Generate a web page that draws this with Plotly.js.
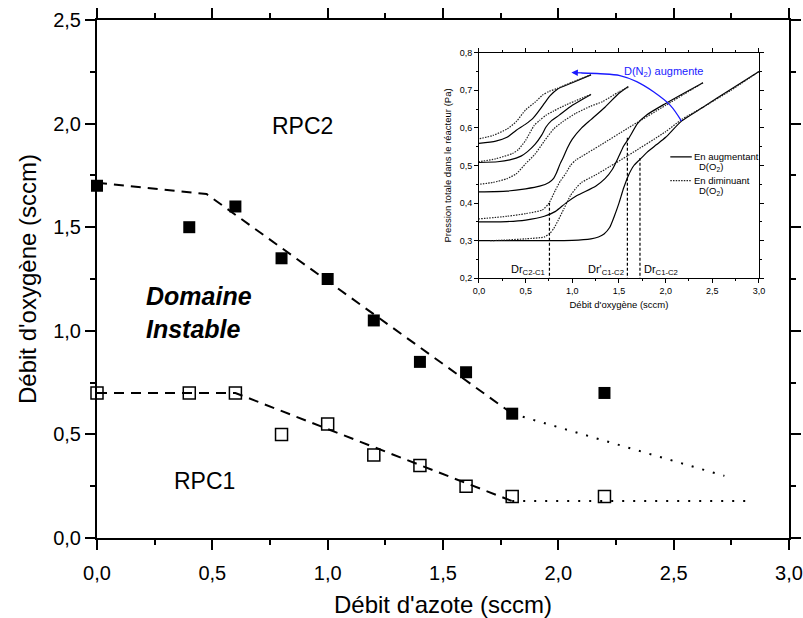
<!DOCTYPE html>
<html>
<head>
<meta charset="utf-8">
<script src="https://cdn.plot.ly/plotly-3.0.1.min.js"></script>
<style>html,body{margin:0;padding:0;background:#fff;}#chart{width:803px;height:618px;}</style>
</head>
<body>
<div id="chart"></div>
<script>
// ---- Main chart data ----
const nitrogenFlow = [0, 0.4, 0.6, 0.8, 1.0, 1.2, 1.4, 1.6, 1.8, 2.2];
const rpc2Oxygen   = [1.7, 1.5, 1.6, 1.35, 1.25, 1.05, 0.85, 0.8, 0.6, 0.7];
const rpc1Oxygen   = [0.7, 0.7, 0.7, 0.5, 0.55, 0.4, 0.35, 0.25, 0.2, 0.2];

const rpc2DashX = [0, 0.475, 1.8];
const rpc2DashY = [1.715, 1.66, 0.6];
const rpc2DotX  = [1.8, 2.72];
const rpc2DotY  = [0.6, 0.30];
const rpc1DashX = [0, 0.6, 1.8];
const rpc1DashY = [0.7, 0.7, 0.178];
const rpc1DotX  = [1.8, 2.82];
const rpc1DotY  = [0.178, 0.178];

// ---- Inset data (pressure vs O2 flow), 5 N2 flows ----
const aIncX = [0, 0.5, 1.0, 1.2, 1.28, 1.34, 1.4, 1.45, 1.5, 1.55, 1.6, 1.66, 1.72, 1.8, 1.9, 2.0, 2.17, 2.4, 2.7, 3.0];
const aIncY = [0.30, 0.30, 0.301, 0.305, 0.31, 0.318, 0.335, 0.365, 0.40, 0.44, 0.473, 0.50, 0.515, 0.535, 0.555, 0.575, 0.618, 0.655, 0.703, 0.75];
const aDecX = [3.0, 2.7, 2.4, 2.17, 2.0, 1.6, 1.4, 1.25, 1.1, 1.04, 0.98, 0.91, 0.85, 0.8, 0.76, 0.7, 0.5, 0.3, 0.12];
const aDecY = [0.75, 0.70, 0.655, 0.622, 0.59, 0.527, 0.497, 0.475, 0.455, 0.44, 0.42, 0.385, 0.355, 0.332, 0.32, 0.31, 0.305, 0.302, 0.30];

const bIncX = [0, 0.3, 0.5, 0.7, 0.82, 0.93, 1.05, 1.25, 1.35, 1.43, 1.5, 1.55, 1.6, 1.7, 1.8, 2.0, 2.2, 2.4];
const bIncY = [0.35, 0.351, 0.355, 0.365, 0.378, 0.40, 0.42, 0.445, 0.465, 0.49, 0.525, 0.552, 0.57, 0.612, 0.635, 0.665, 0.693, 0.72];
const bDecX = [2.4, 2.2, 2.0, 1.6, 1.3, 1.1, 1.04, 0.98, 0.93, 0.87, 0.82, 0.75, 0.68, 0.5, 0.3, 0];
const bDecY = [0.72, 0.69, 0.66, 0.60, 0.554, 0.524, 0.515, 0.50, 0.479, 0.458, 0.435, 0.40, 0.382, 0.372, 0.365, 0.358];

const cIncX = [0, 0.3, 0.5, 0.65, 0.75, 0.8, 0.83, 0.87, 0.9, 0.95, 1.0, 1.1, 1.2, 1.35, 1.5, 1.6];
const cIncY = [0.43, 0.432, 0.438, 0.445, 0.455, 0.466, 0.48, 0.505, 0.52, 0.548, 0.57, 0.60, 0.622, 0.655, 0.692, 0.71];
const cDecX = [1.6, 1.5, 1.325, 1.2, 1.04, 0.9, 0.8, 0.7, 0.6, 0.5, 0.4, 0.3, 0.15, 0];
const cDecY = [0.708, 0.696, 0.67, 0.658, 0.639, 0.617, 0.597, 0.565, 0.53, 0.505, 0.478, 0.465, 0.455, 0.45];

const dIncX = [0, 0.2, 0.33, 0.45, 0.52, 0.6, 0.67, 0.72, 0.78, 0.86, 1.0, 1.2];
const dIncY = [0.508, 0.51, 0.515, 0.525, 0.537, 0.556, 0.58, 0.603, 0.62, 0.634, 0.66, 0.689];
const dDecX = [1.2, 0.93, 0.8, 0.72, 0.65, 0.59, 0.5, 0.42, 0.36, 0.18, 0];
const dDecY = [0.689, 0.661, 0.645, 0.634, 0.62, 0.606, 0.567, 0.542, 0.532, 0.518, 0.51];

const eIncX = [0, 0.18, 0.3, 0.4, 0.5, 0.58, 0.65, 0.7, 0.76, 0.84, 1.0, 1.2];
const eIncY = [0.559, 0.565, 0.575, 0.594, 0.61, 0.626, 0.648, 0.665, 0.685, 0.703, 0.72, 0.741];
const eDecX = [1.2, 1.0, 0.84, 0.75, 0.68, 0.6, 0.5, 0.4, 0.3, 0.15, 0];
const eDecY = [0.741, 0.722, 0.705, 0.697, 0.687, 0.668, 0.648, 0.617, 0.597, 0.58, 0.571];

// critical flows (vertical dashed markers)
const drFlows = [0.755, 1.59, 1.725];
const drTops  = [0.40, 0.575, 0.52];
const drLabels = ["Dr<sub>C2-C1</sub>", "Dr'<sub>C1-C2</sub>", "Dr<sub>C1-C2</sub>"];
const drLabelX = [0.53, 1.36, 1.95];

// blue arc "D(N2) augmente"
const arcX = [2.17, 2.05, 1.87, 1.69, 1.51, 1.3, 1.1];
const arcY = [0.618, 0.66, 0.696, 0.723, 0.739, 0.744, 0.746];

const FONT = "Liberation Sans, Arial, sans-serif";
const traces = [];

// main markers
traces.push({x: nitrogenFlow, y: rpc2Oxygen, mode: 'markers', type: 'scatter', cliponaxis: false,
  marker: {symbol: 'square', size: 12, color: '#000'}, showlegend: false});
traces.push({x: nitrogenFlow, y: rpc1Oxygen, mode: 'markers', type: 'scatter', cliponaxis: false,
  marker: {symbol: 'square-open', size: 12, color: '#000', line: {width: 1.5, color: '#000'}}, showlegend: false});
// main boundary lines
traces.push({x: rpc2DashX, y: rpc2DashY, mode: 'lines', line: {color: '#000', width: 2, dash: '10px,7px'}, showlegend: false, cliponaxis: false});
traces.push({x: rpc2DotX, y: rpc2DotY, mode: 'lines', line: {color: '#000', width: 2, dash: '2px,9px'}, showlegend: false});
traces.push({x: rpc1DashX, y: rpc1DashY, mode: 'lines', line: {color: '#000', width: 2, dash: '10px,7px'}, showlegend: false, cliponaxis: false});
traces.push({x: rpc1DotX, y: rpc1DotY, mode: 'lines', line: {color: '#000', width: 2, dash: '2px,9px'}, showlegend: false});

// inset curves
const solid = {color: '#000', width: 1.2, shape: 'spline', smoothing: 0.6};
const dotted = {color: '#222', width: 1.2, dash: '1.5px,1.2px', shape: 'spline', smoothing: 0.6};
[[aIncX, aIncY, solid], [aDecX, aDecY, dotted], [bIncX, bIncY, solid], [bDecX, bDecY, dotted],
 [cIncX, cIncY, solid], [cDecX, cDecY, dotted], [dIncX, dIncY, solid], [dDecX, dDecY, dotted],
 [eIncX, eIncY, solid], [eDecX, eDecY, dotted]].forEach(([xs, ys, ln]) => {
  traces.push({x: xs, y: ys, xaxis: 'x2', yaxis: 'y2', mode: 'lines', line: ln, showlegend: false});
});
// vertical dashed critical flows
drFlows.forEach((f, i) => {
  traces.push({x: [f, f], y: [0.18, drTops[i]], xaxis: 'x2', yaxis: 'y2', mode: 'lines', cliponaxis: false,
    line: {color: '#000', width: 1.2, dash: '3px,2px'}, showlegend: false});
});
// blue arc
traces.push({x: arcX, y: arcY, xaxis: 'x2', yaxis: 'y2', mode: 'lines',
  line: {color: '#1a1aff', width: 1.3, shape: 'spline'}, showlegend: false});
// inset legend samples
const legX = [2.05, 2.28];
traces.push({x: legX, y: [0.523, 0.523], xaxis: 'x2', yaxis: 'y2', mode: 'lines', line: {color: '#000', width: 1.2}, showlegend: false});
traces.push({x: legX, y: [0.46, 0.46], xaxis: 'x2', yaxis: 'y2', mode: 'lines', line: {color: '#222', width: 1.2, dash: '1.5px,1.2px'}, showlegend: false});

const annotations = [
  {x: 0.893, y: 1.99, xref: 'x', yref: 'y', text: 'RPC2', showarrow: false, font: {family: FONT, size: 23, color: '#000'}},
  {x: 0.467, y: 0.275, xref: 'x', yref: 'y', text: 'RPC1', showarrow: false, font: {family: FONT, size: 23, color: '#000'}},
  {x: 0.205, y: 1.09, xref: 'x', yref: 'y', xanchor: 'left', align: 'left', text: '<b><i>Domaine<br>Instable</i></b>', showarrow: false, font: {family: FONT, size: 25, color: '#000'}},
  // inset annotations
  {x: 0.99, y: 0.747, ax: 1.12, ay: 0.746, xref: 'x2', yref: 'y2', axref: 'x2', ayref: 'y2', text: '', showarrow: true, arrowhead: 2, arrowsize: 1, arrowwidth: 1.3, arrowcolor: '#1a1aff'},
  {x: 1.53, y: 0.749, xref: 'x2', yref: 'y2', xanchor: 'left', text: 'D(N<sub>2</sub>) augmente', showarrow: false, font: {family: FONT, size: 11, color: '#1a1aff'}},
  {x: 2.28, y: 0.523, xref: 'x2', yref: 'y2', xanchor: 'left', text: 'En augmentant', showarrow: false, font: {family: FONT, size: 9.5, color: '#000'}},
  {x: 2.34, y: 0.497, xref: 'x2', yref: 'y2', xanchor: 'left', text: 'D(O<sub>2</sub>)', showarrow: false, font: {family: FONT, size: 9.5, color: '#000'}},
  {x: 2.28, y: 0.46, xref: 'x2', yref: 'y2', xanchor: 'left', text: 'En diminuant', showarrow: false, font: {family: FONT, size: 9.5, color: '#000'}},
  {x: 2.34, y: 0.432, xref: 'x2', yref: 'y2', xanchor: 'left', text: 'D(O<sub>2</sub>)', showarrow: false, font: {family: FONT, size: 9.5, color: '#000'}}
];
drLabels.forEach((t, i) => {
  annotations.push({x: drLabelX[i], y: 0.222, xref: 'x2', yref: 'y2', text: t, showarrow: false, font: {family: FONT, size: 11, color: '#000'}});
});

const mainAxis = {
  showline: true, linewidth: 2, linecolor: '#000', mirror: 'ticks', ticks: 'outside', ticklen: 10, tickwidth: 2, tickcolor: '#000',
  showgrid: false, zeroline: false, tickformat: '.1f', tickfont: {family: FONT, size: 20, color: '#000'},
  minor: {ticks: 'outside', ticklen: 5, tickwidth: 2, tickcolor: '#000', dtick: 0.25, showgrid: false}
};
const insetAxis = {
  showline: true, linewidth: 1, linecolor: '#000', mirror: 'ticks', ticks: 'outside', ticklen: 4, tickwidth: 1, tickcolor: '#000',
  showgrid: false, zeroline: false, tickformat: '.1f', tickfont: {family: FONT, size: 9, color: '#000'}
};

const layout = {
  width: 803, height: 618,
  margin: {l: 97, r: 14, t: 20, b: 80},
  paper_bgcolor: '#fff', plot_bgcolor: 'rgba(0,0,0,0)',
  separators: ', ',
  font: {family: FONT, color: '#000'},
  showlegend: false,
  xaxis: Object.assign({}, mainAxis, {range: [0, 3], dtick: 0.5, ticklabelstandoff: 6,
    title: {text: "Débit d'azote (sccm)", font: {family: FONT, size: 24, color: '#000'}, standoff: 18}}),
  yaxis: Object.assign({}, mainAxis, {range: [0, 2.5], dtick: 0.5,
    title: {text: "Débit d'oxygène (sccm)", font: {family: FONT, size: 24, color: '#000'}, standoff: 10}}),
  xaxis2: Object.assign({}, insetAxis, {domain: [0.552, 0.9566], anchor: 'y2', range: [0, 3], dtick: 0.5,
    minor: {ticks: 'outside', ticklen: 2, tickwidth: 1, dtick: 0.25, tickcolor: '#000'},
    title: {text: "Débit d'oxygène (sccm)", font: {family: FONT, size: 9.5, color: '#000'}, standoff: 6}}),
  yaxis2: Object.assign({}, insetAxis, {domain: [0.5013, 0.9369], anchor: 'x2', range: [0.2, 0.8], dtick: 0.1,
    minor: {ticks: 'outside', ticklen: 2, tickwidth: 1, dtick: 0.05, tickcolor: '#000'},
    title: {text: 'Pression totale dans le réacteur (Pa)', font: {family: FONT, size: 9.5, color: '#000'}, standoff: 6}}),
  annotations: annotations
};

Plotly.newPlot('chart', traces, layout, {staticPlot: true, displayModeBar: false});
</script>
</body>
</html>
